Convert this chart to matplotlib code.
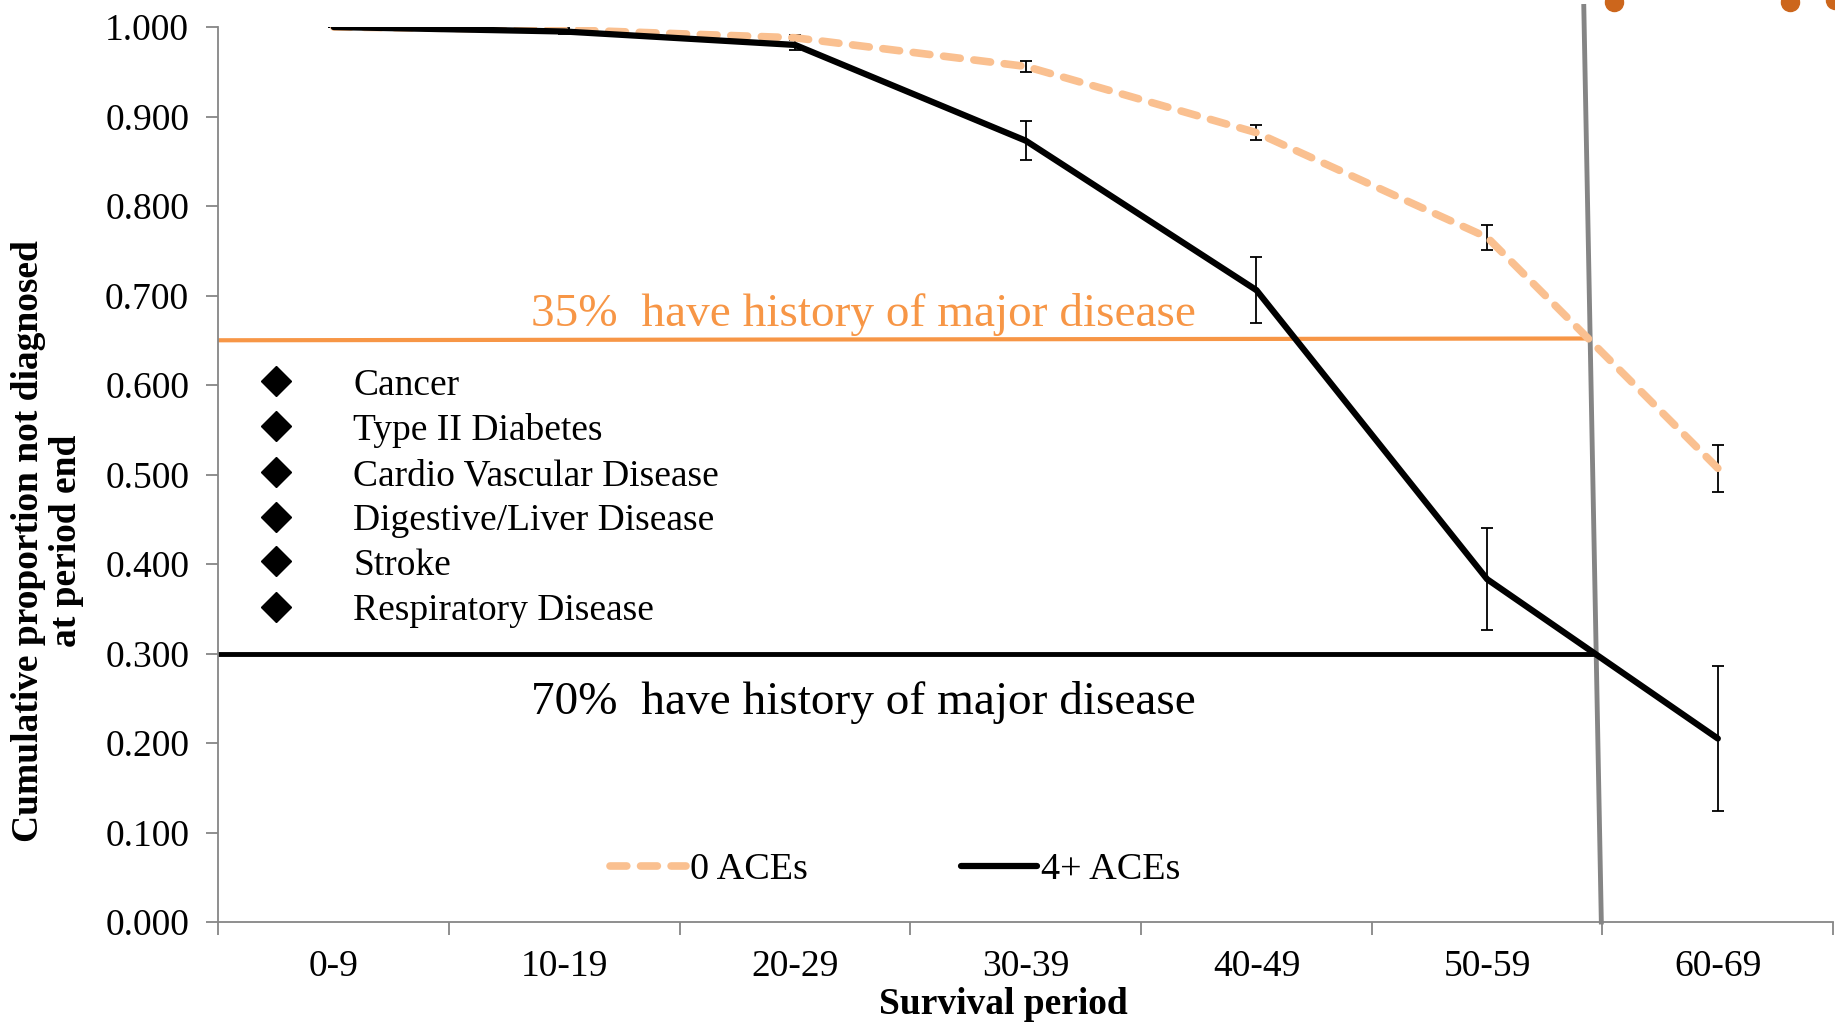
import matplotlib
matplotlib.use("Agg")
import matplotlib.pyplot as plt

plt.rcParams['font.family'] = ['Liberation Serif', 'DejaVu Serif']

# data
periods = ['0-9', '10-19', '20-29', '30-39', '40-49', '50-59', '60-69']
aces0 = [1.000, 0.997, 0.988, 0.956, 0.882, 0.765, 0.507]
aces0_err = [0.0, 0.002, 0.003, 0.006, 0.008, 0.014, 0.026]
aces4 = [1.000, 0.995, 0.980, 0.873, 0.706, 0.383, 0.205]
aces4_err = [0.0, 0.003, 0.006, 0.022, 0.037, 0.057, 0.081]

diseases = ['Cancer', 'Type II Diabetes', 'Cardio Vascular Disease',
            'Digestive/Liver Disease', 'Stroke', 'Respiratory Disease']
disease_y = [0.604, 0.554, 0.503, 0.453, 0.403, 0.352]

level35 = 0.65
level70 = 0.30

orange = '#F79646'
light_orange = '#FAC090'

fig = plt.figure(figsize=(18.35, 10.24), dpi=100)
ax = fig.add_axes([0.119, 0.0996, 0.880, 0.874])

x = list(range(len(periods)))

# threshold lines
ax.plot([-0.5, 5.43], [level35, 0.652], color=orange, lw=3, zorder=2)
ax.plot([-0.5, 5.45], [level70, level70], color='black', lw=3.5, zorder=2)

# vertical gray marker (slightly slanted, runs above the plot)
ax.plot([5.419, 5.495], [1.023, 0.0], color='#858585', lw=3.5, zorder=3, clip_on=False)

# orange dots at top edge
ax.plot([5.55, 6.315, 6.51], [1.028, 1.028, 1.030], 'o', color='#CC661C', ms=13,
        clip_on=False, zorder=5)

# series
ax.errorbar(x, aces0, yerr=aces0_err, fmt='none', ecolor='black', elinewidth=1.3,
            capsize=4, capthick=1.3, zorder=4)
ax.errorbar(x, aces4, yerr=aces4_err, fmt='none', ecolor='black', elinewidth=1.3,
            capsize=4, capthick=1.3, zorder=4)
l0, = ax.plot(x, aces0, color=light_orange, lw=5.5, dashes=(2.2, 1.8),
              dash_capstyle='round', zorder=5)
l4, = ax.plot(x, aces4, color='black', lw=4.5, solid_capstyle='round', zorder=5)

# annotations
ax.text(2.297, 0.679, '35%  have history of major disease', color=orange,
        fontsize=34, ha='center', va='center')
ax.text(2.297, 0.245, '70%  have history of major disease', color='black',
        fontsize=34, ha='center', va='center')

# disease list
for d, yy in zip(diseases, disease_y):
    ax.plot(-0.251, yy, 'D', color='black', ms=15, zorder=5)
    ax.text(0.084, yy, d, fontsize=27, va='center_baseline', ha='left')

# legend
ax.legend([l0, l4], ['0 ACEs', '4+ ACEs'], loc='center',
          bbox_to_anchor=(0.419, 0.058), ncol=2, frameon=False,
          fontsize=27.5, handlelength=2.0, handletextpad=0.1,
          columnspacing=4.0)

# axes styling
ax.set_xlim(-0.5, 6.5)
ax.set_ylim(0, 1.0)
ax.set_xticks([i - 0.5 for i in range(8)])
ax.set_xticklabels([])
ax.set_xticks(x, minor=True)
ax.set_xticklabels(periods, minor=True)
ax.tick_params(axis='x', which='minor', length=0, labelsize=27, pad=20)
ax.tick_params(axis='x', which='major', length=9, color='#868686', width=1.3)
ax.set_yticks([i / 10 for i in range(11)])
ax.set_yticklabels(['%.3f' % (i / 10) for i in range(11)])
ax.tick_params(axis='y', length=9, color='#868686', width=1.3, labelsize=27, pad=12)
for s in ['top', 'right']:
    ax.spines[s].set_visible(False)
for s in ['left', 'bottom']:
    ax.spines[s].set_color('#868686')
    ax.spines[s].set_linewidth(1.3)

fig.text(0.026, 0.472, 'Cumulative proportion not diagnosed\nat period end',
         fontsize=27, fontweight='bold', linespacing=1.1, rotation=90,
         ha='center', va='center', multialignment='center')
fig.text(0.547, 0.019, 'Survival period', fontsize=27, fontweight='bold',
         ha='center', va='center')

fig.savefig('out.png', dpi=100)
